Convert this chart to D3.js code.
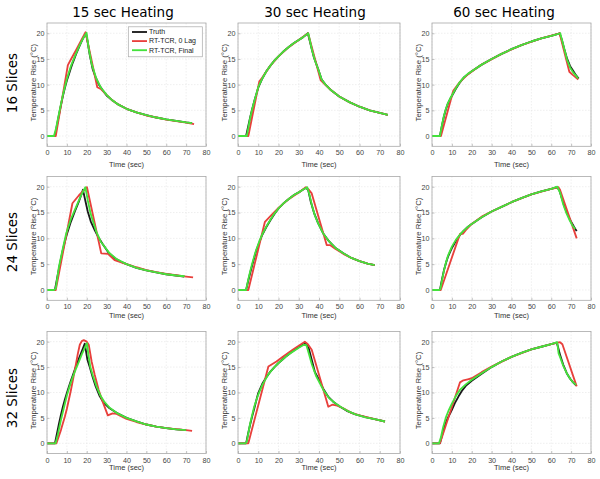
<!DOCTYPE html>
<html><head><meta charset="utf-8">
<script src="https://cdn.jsdelivr.net/npm/d3@7"></script>
<style>html,body{margin:0;padding:0;background:#fff;}svg{display:block;}</style>
</head><body>
<script>
// ---------- data ----------
const colTitles = ["15 sec Heating", "30 sec Heating", "60 sec Heating"];
const rowTitles = ["16 Slices", "24 Slices", "32 Slices"];
const xTicks = [0, 10, 20, 30, 40, 50, 60, 70, 80];
const yTicks = [0, 5, 10, 15, 20];
const legendLabels = ["Truth", "RT-TCR, 0 Lag", "RT-TCR, Final"];

// row 1 (16 slices)
const truth_r1c1 = [[0,0],[4,0],[5,2.1],[6,4.1],[7,6],[8,7.8],[9,9.4],[10,10.8],[11,12],[12,13.2],[13,14.3],[14,15.3],[15,16.3],[16,17.2],[17,18.1],[18,18.9],[19,19.6],[19.6,20],[20.5,18.2],[21.5,15.8],[23,13],[24.5,11.4],[26,10.1],[28,8.9],[30,7.9],[33,6.9],[36,6.1],[40,5.3],[45,4.6],[50,4.05],[55,3.6],[60,3.25],[65,2.95],[70,2.65],[73,2.5]];
const lag0_r1c1 = [[0,0],[4.4,0],[10.5,13.8],[12,14.9],[15,17],[19.4,20.2],[25.3,9.5],[27.3,9.1],[30,8],[33,6.9],[36,6.1],[40,5.3],[45,4.6],[50,4.0],[55,3.6],[60,3.2],[65,2.9],[70,2.6],[74,2.3]];
const final_r1c1 = [[0,0],[3.5,0],[4.5,1.4],[6,4.3],[8,8],[10,11.1],[12,13.6],[14,15.5],[16,17.3],[18,18.9],[19.9,20.1],[21,17],[22.5,14],[24.8,11.2],[27,9.5],[30,8],[33,6.9],[36,6.1],[40,5.3],[45,4.6],[50,4.05],[55,3.6],[60,3.25],[65,2.95],[70,2.65],[73,2.5]];

const truth_r1c2 = [[0,0],[4,0],[5,1.8],[6,3.6],[7,5.2],[8,6.7],[9,8.1],[10,9.4],[12,11.2],[14,12.6],[16,13.7],[18,14.7],[20,15.5],[22,16.3],[24,17],[26,17.6],[28,18.2],[30,18.7],[32,19.2],[34.5,20],[36,17.6],[37.5,15.3],[39.7,12.9],[41.3,11],[43,10.1],[46,8.9],[50,7.7],[55,6.6],[60,5.7],[65,5],[70,4.5],[74,4.1]];
const lag0_r1c2 = [[0,0],[5.1,0],[10.5,10.6],[12,11.4],[16,13.7],[20,15.5],[25,17.3],[30,18.7],[34.6,20],[40.8,10.9],[43,10],[46,8.9],[50,7.7],[55,6.6],[60,5.7],[65,5],[70,4.5],[74,4.1]];
const final_r1c2 = [[0,0],[4.3,0],[5,1.4],[6,3.5],[7,5.2],[8,6.7],[9,8.1],[10,9.5],[12,11.2],[14,12.6],[16,13.7],[18,14.7],[20,15.5],[22,16.3],[24,17],[26,17.6],[28,18.2],[30,18.7],[32,19.2],[34.7,20],[36.5,16.8],[38,14.7],[39.7,12.9],[41.3,11],[43,10.1],[46,8.9],[50,7.7],[55,6.6],[60,5.7],[65,5],[70,4.5],[74,4.1]];

const truth_r1c3 = [[0,0],[4,0],[5,2],[6,3.8],[7,5.2],[8,6.3],[9,7.1],[10,7.8],[12,9.2],[14,10.4],[16,11.4],[18,12],[20,12.6],[25,13.9],[30,15],[35,16],[40,16.9],[45,17.7],[50,18.4],[55,19],[60,19.5],[64.2,20],[65.3,18.8],[66.5,17],[68,15],[69.5,13.6],[71,12.7],[72.5,11.8],[73.8,11.2]];
const lag0_r1c3 = [[0,0],[4.5,0],[10.7,8.8],[12,9.5],[14,10.5],[18,12],[25,13.9],[35,16],[45,17.7],[55,19],[64.2,20],[69.1,12.5],[70.8,11.9],[73.6,11]];
const final_r1c3 = [[0,0],[4,0],[5,2.1],[6,3.9],[7,5.3],[8,6.4],[9,7.2],[10,7.9],[12,9.3],[14,10.5],[16,11.4],[18,12.1],[20,12.6],[25,13.9],[30,15],[35,16],[40,16.9],[45,17.7],[50,18.4],[55,19],[60,19.5],[64.5,20],[66,17.8],[68,14.8],[69.5,13.3],[71,12.4],[72.5,11.7],[73.5,11.2]];

// row 2 (24 slices)
const truth_r2c1 = [[0,0],[4,0],[5,2.1],[6,4.1],[7,6],[8,7.8],[9,9.4],[10,10.8],[12,13.2],[14,15.2],[16,17.1],[18.1,19.4],[19,17.8],[20.5,15.2],[22,13.3],[24,11.6],[26,10.1],[28,8.9],[31,7.2],[34,6.2],[37,5.5],[40,5],[45,4.3],[50,3.8],[55,3.4],[60,3.05],[65,2.8],[69,2.6]];
const lag0_r2c1 = [[0,0],[4.4,0],[12.8,16.8],[16,18.3],[20.1,19.9],[27.3,7.1],[30.7,7],[34,5.8],[37,5.4],[40,5],[45,4.4],[50,3.85],[55,3.45],[60,3.1],[65,2.85],[70,2.6],[73.5,2.45]];
const final_r2c1 = [[0,0],[3.5,0],[4.4,0.3],[6,4.5],[8,8.1],[9.7,11],[12,13.7],[14,15.5],[16,17.3],[17.5,18.6],[19.3,19.9],[20.5,17.4],[22,14.7],[24.8,11.3],[27,9.4],[31.5,7.1],[35,6],[40,5],[45,4.3],[50,3.8],[55,3.4],[60,3.05],[65,2.8],[69.3,2.65]];

const truth_r2c2 = [[0,0],[4,0],[5,1.7],[6,3.3],[7,4.8],[8,6.2],[9,7.6],[10.5,9.2],[12,10.7],[14,12.2],[16,13.5],[18,14.7],[20,15.8],[22,16.6],[24,17.3],[26,17.9],[28,18.5],[30,18.9],[32,19.4],[33.7,19.8],[34.7,19.3],[36,17],[37.5,15],[39.5,13],[42,11],[45,9.4],[48,8.2],[52,7.1],[56,6.2],[60,5.6],[64,5.1],[67.5,4.8]];
const lag0_r2c2 = [[0,0],[5.1,0],[13.3,13.2],[16,14.3],[20,15.9],[25,17.6],[30,18.9],[33.5,19.9],[35,19.4],[36.4,18.7],[43.8,8.7],[45.4,8.7],[48,8],[52,7],[56,6.2],[60,5.6],[64,5.1],[67.5,4.8]];
const final_r2c2 = [[0,0],[4,0],[5,1.9],[6,3.6],[7,5.1],[8,6.5],[9,7.8],[10.5,9.4],[12,10.8],[14,12.3],[16,13.6],[18,14.8],[20,15.8],[22,16.6],[24,17.3],[26,17.9],[28,18.5],[30,18.9],[32,19.4],[34.2,19.9],[35.2,18.6],[36.5,16.4],[38,14.4],[39.7,12.8],[42,11],[45,9.4],[48,8.2],[52,7.1],[56,6.2],[60,5.6],[64,5.1],[67.5,4.8]];

const truth_r2c3 = [[0,0],[4,0],[5,2],[6,3.8],[7,5.2],[8,6.4],[9,7.3],[10,8.1],[12,9.5],[14,10.6],[16,11.5],[18,12.2],[20,12.8],[25,14.1],[30,15.2],[35,16.1],[40,17],[45,17.8],[50,18.5],[55,19.1],[60,19.6],[62.8,19.9],[64,19.4],[65.5,17.6],[67,15.8],[68.5,14.4],[70,13.2],[71.5,12.2],[72.8,11.4]];
const lag0_r2c3 = [[0,0],[4.4,0],[13.3,10],[14.2,10.9],[15.6,10.9],[17,11.6],[20,12.8],[25,14.2],[30,15.2],[40,17],[50,18.5],[60,19.6],[63.6,19.9],[64.4,19.4],[72.8,10]];
const final_r2c3 = [[0,0],[3.6,0],[4.2,0.2],[5,1.8],[6,3.7],[7,5.3],[8,6.6],[10,8.4],[12,9.7],[14,10.7],[16,11.5],[18,12.2],[20,12.8],[25,14.1],[30,15.2],[35,16.1],[40,17],[45,17.8],[50,18.5],[55,19.1],[60,19.6],[63,20],[64.5,18.8],[66,16.6],[67.5,15],[69,13.7],[70.5,12.6],[72,11.8]];

// row 3 (32 slices)
const truth_r3c1 = [[0,0],[4,0],[5,1.9],[6,3.8],[7,5.6],[8,7.2],[9,8.6],[10,9.9],[11,11.1],[12,12.3],[13,13.4],[14,14.5],[15,15.6],[16,16.6],[17,17.6],[18,18.6],[19,19.6],[20.3,16.5],[21.5,15],[23,13],[24.5,11.2],[26.5,9.3],[28.5,8],[31.5,6.9],[35,6],[40,5],[45,4.3],[50,3.7],[55,3.3],[60,3],[65,2.75],[70,2.6]];
const lag0_r3c1 = [[0,0],[4.7,0],[7,2.6],[9,5.3],[10,6.8],[12,10.4],[14,14.4],[15.5,17.6],[16.5,19.4],[17.5,20.1],[18.5,20.3],[20,20],[21,19.4],[22.5,16],[24,13.5],[26,10.5],[28,8.2],[30.6,5.5],[33,5.9],[35,5.8],[37,5.4],[40,4.8],[45,4.2],[50,3.7],[55,3.3],[60,3.0],[65,2.8],[70,2.6],[73,2.45]];
const final_r3c1 = [[0,0],[4.3,0],[5.5,1.8],[7,4.6],[8.5,7],[10,9.4],[11.5,11.4],[13,13.1],[14.5,14.6],[16,16],[17.5,17.5],[19,18.8],[20.1,19.7],[20.8,17.5],[21.8,15],[23,13.4],[25,11.1],[27,9.3],[29,8.1],[31.5,7],[35,6],[40,5],[45,4.3],[50,3.7],[55,3.3],[60,3],[65,2.75],[70,2.6]];

const truth_r3c2 = [[0,0],[4,0],[5,1.9],[6,3.7],[7,5.3],[8,6.8],[9,8.4],[10,9.9],[12,11.7],[14,13],[16,14.1],[18,15],[20,15.8],[22,16.5],[24,17.2],[26,17.8],[28,18.4],[30,18.9],[32,19.4],[33.5,19.7],[35,18.6],[36.5,16.3],[38,14],[40,12.5],[42,10.8],[44.5,9.2],[47,8.2],[50,7.3],[53.7,6.4],[58,5.7],[63.5,5.1],[68,4.7],[72.6,4.3]];
const lag0_r3c2 = [[0,0],[5.1,0],[15,15.1],[19,16.1],[23,17.3],[27,18.4],[30,19.2],[33,20],[34.5,19.5],[36.4,18.4],[44.6,7.2],[46.5,7.6],[49,7.4],[52,6.9],[56,6],[60,5.5],[64,5.1],[68,4.7],[72.6,4.3]];
const final_r3c2 = [[0,0],[3.8,0],[4.3,0.3],[6,3.9],[8,7.2],[10,9.6],[12,11.5],[15,13.6],[18,15],[20,15.8],[25,17.5],[30,18.8],[32.5,19.4],[33.8,19.3],[35,17.6],[36.5,15.5],[38.5,13.3],[42,10.6],[45,8.9],[48,7.9],[51,7.1],[54,6.4],[58,5.7],[63,5.1],[68,4.7],[72.6,4.3]];

const truth_r3c3 = [[0,0],[4,0],[5,1.5],[6,2.9],[7,4.1],[8,5],[9,5.8],[10,6.6],[11.5,7.9],[13.3,9.2],[15,10.3],[17,11.3],[20,12.3],[25,13.7],[30,15],[35,16.1],[40,17],[45,17.8],[50,18.5],[55,19],[60,19.5],[62.8,19.8],[63.5,18.8],[64.5,17.3],[66,15.5],[67.8,13.8],[69.5,12.7],[71,12],[72.5,11.4]];
const lag0_r3c3 = [[0,0],[4,0],[14.1,12],[15.8,12.4],[18,12.6],[20,12.8],[25,14],[30,15.1],[40,17],[50,18.5],[60,19.5],[64.4,19.9],[65.6,19.5],[72.8,11.2]];
const final_r3c3 = [[0,0],[3.5,0],[4.5,1.2],[5.5,3],[7,5.1],[8.5,6.6],[10,7.8],[12,9.3],[14,10.5],[17,11.6],[20,12.5],[25,13.8],[30,15],[35,16.1],[40,17],[45,17.8],[50,18.5],[55,19],[60,19.5],[63,19.9],[63.7,17.7],[64.5,16.9],[66,15.3],[67.8,13.8],[69.5,12.7],[71,12],[72.5,11.5]];

const panels = [
  [[truth_r1c1, lag0_r1c1, final_r1c1], [truth_r1c2, lag0_r1c2, final_r1c2], [truth_r1c3, lag0_r1c3, final_r1c3]],
  [[truth_r2c1, lag0_r2c1, final_r2c1], [truth_r2c2, lag0_r2c2, final_r2c2], [truth_r2c3, lag0_r2c3, final_r2c3]],
  [[truth_r3c1, lag0_r3c1, final_r3c1], [truth_r3c2, lag0_r3c2, final_r3c2], [truth_r3c3, lag0_r3c3, final_r3c3]]
];

// ---------- layout / style ----------
const W = 600, H = 479;
const colRanges = [[47, 206], [238, 400], [432, 591]];
const rowRanges = [[23, 146.3], [176.4, 300.3], [331.5, 453.5]];
const titleX = [123, 315, 504];
const rowTitleY = [83, 242, 398];
const timeLabelY = [166.7, 317.7, 470.3];
const seriesColors = ["#1a1a1a", "#e8403c", "#44e23c"];
const lineW = 1.85;
const tickFont = "'Liberation Sans', Arial, sans-serif";

const svg = d3.select("body").append("svg").attr("width", W).attr("height", H);

// column titles
colTitles.forEach((t, i) => {
  svg.append("text").attr("x", titleX[i]).attr("y", 17)
    .attr("text-anchor", "middle").attr("font-family", "'DejaVu Sans', sans-serif")
    .attr("font-size", 13.5).attr("fill", "#000").text(t);
});
// row titles
rowTitles.forEach((t, j) => {
  svg.append("text").attr("transform", `translate(17,${rowTitleY[j]}) rotate(-90)`)
    .attr("text-anchor", "middle").attr("font-family", "'DejaVu Sans', sans-serif")
    .attr("font-size", 13.5).attr("fill", "#000").text(t);
});

const line = d3.line().curve(d3.curveLinear);

panels.forEach((row, j) => {
  row.forEach((series, i) => {
    const x = d3.scaleLinear().domain([0, 80]).range(colRanges[i]);
    const y = d3.scaleLinear().domain([-2, 22]).range([rowRanges[j][1], rowRanges[j][0]]);
    const g = svg.append("g");
    const [x0, x1] = x.range();
    const [y1, y0] = y.range();

    g.append("rect").attr("x", x0).attr("y", y0).attr("width", x1 - x0).attr("height", y1 - y0).attr("fill", "#fff");

    // grid
    g.selectAll(".gx").data(xTicks).join("line")
      .attr("x1", d => x(d)).attr("x2", d => x(d)).attr("y1", y0).attr("y2", y1)
      .attr("stroke", "#e4e4e4").attr("stroke-width", 0.6).attr("stroke-dasharray", "1.5,1.5");
    g.selectAll(".gy").data(yTicks).join("line")
      .attr("x1", x0).attr("x2", x1).attr("y1", d => y(d)).attr("y2", d => y(d))
      .attr("stroke", "#e4e4e4").attr("stroke-width", 0.6).attr("stroke-dasharray", "1.5,1.5");

    // axes (ticks inward)
    const xAxis = d3.axisBottom(x).tickValues(xTicks).tickSize(-2.5).tickPadding(4);
    const yAxis = d3.axisLeft(y).tickValues(yTicks).tickSize(-2.5).tickPadding(2.5);
    const gx = g.append("g").attr("transform", `translate(0,${y1})`).call(xAxis);
    const gy = g.append("g").attr("transform", `translate(${x0},0)`).call(yAxis);
    [gx, gy].forEach(a => {
      a.select(".domain").remove();
      a.selectAll(".tick line").attr("stroke", "#9a9a9a").attr("stroke-width", 0.6);
      a.selectAll(".tick text").attr("font-family", tickFont).attr("font-size", 7.2).attr("fill", "#444");
    });
    gy.selectAll(".tick text").attr("dy", "0.34em");

    // series: truth, 0 lag, final
    series.forEach((pts, k) => {
      g.append("path").datum(pts)
        .attr("d", line.x(d => x(d[0])).y(d => y(d[1])))
        .attr("fill", "none").attr("stroke", seriesColors[k])
        .attr("stroke-width", lineW).attr("stroke-linejoin", "round");
    });

    // box
    g.append("rect").attr("x", x0).attr("y", y0).attr("width", x1 - x0).attr("height", y1 - y0)
      .attr("fill", "none").attr("stroke", "#a8a8a8").attr("stroke-width", 0.8);

    // axis labels
    g.append("text").attr("x", (x0 + x1) / 2).attr("y", timeLabelY[j])
      .attr("text-anchor", "middle").attr("font-family", tickFont).attr("font-size", 7.5)
      .attr("fill", "#333").text("Time (sec)");
    g.append("text").attr("transform", `translate(${x0 - 11.5},${(y0 + y1) / 2 - 2}) rotate(-90)`)
      .attr("text-anchor", "middle").attr("font-family", tickFont).attr("font-size", 7.8)
      .attr("fill", "#333").text("Temperature Rise (°C)");

    // legend only in first panel
    if (i === 0 && j === 0) {
      const lg = g.append("g");
      lg.append("rect").attr("x", 128.3).attr("y", 26.8).attr("width", 74).attr("height", 30)
        .attr("fill", "#fff").attr("stroke", "#a8a8a8").attr("stroke-width", 0.7);
      legendLabels.forEach((lab, k) => {
        const ly = 32 + k * 9.1;
        lg.append("line").attr("x1", 132).attr("x2", 147).attr("y1", ly).attr("y2", ly)
          .attr("stroke", seriesColors[k]).attr("stroke-width", lineW);
        lg.append("text").attr("x", 149).attr("y", ly).attr("dy", "0.34em")
          .attr("font-family", tickFont).attr("font-size", 7).attr("fill", "#222").text(lab);
      });
    }
  });
});
</script>
</body></html>
